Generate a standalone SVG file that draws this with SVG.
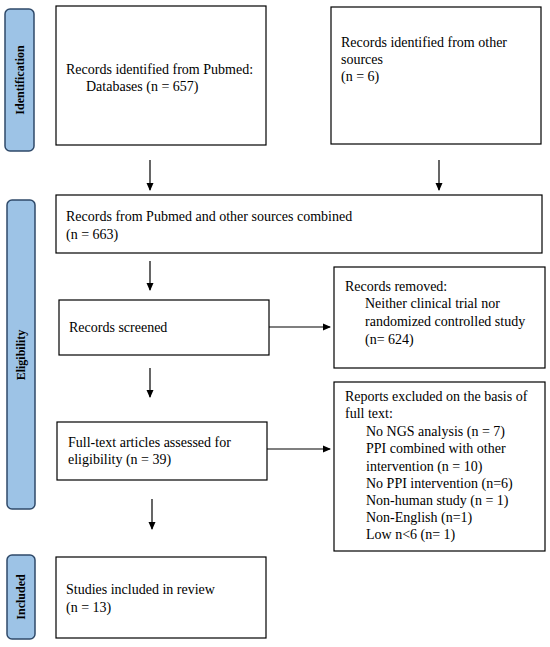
<svg xmlns="http://www.w3.org/2000/svg" width="550" height="647" viewBox="0 0 550 647">
<defs>
<marker id="ah" markerWidth="8" markerHeight="8" refX="7" refY="4" orient="auto" markerUnits="userSpaceOnUse">
<path d="M0,0.5 L8,4 L0,7.5 Z" fill="#000"/>
</marker>
<style>
.box{fill:#fff;stroke:#000;stroke-width:1.2}
.lab{fill:#9dc3e6;stroke:#2f4a6a;stroke-width:1.5}
.t{font-family:"Liberation Serif",serif;font-size:14px;fill:#000}
.lt{font-family:"Liberation Serif",serif;font-size:12px;font-weight:bold;fill:#000}
.c{stroke:#000;stroke-width:1.2;fill:none;marker-end:url(#ah)}
</style>
</defs>
<rect width="550" height="647" fill="#fff"/>
<g id="lab-identification">
<rect class="lab" x="5" y="9" width="29" height="142" rx="5"/>
<text class="lt" transform="translate(24,80) rotate(-90)" text-anchor="middle">Identification</text>
</g>
<g id="lab-eligibility">
<rect class="lab" x="7" y="200" width="28" height="309" rx="5"/>
<text class="lt" transform="translate(25,355) rotate(-90)" text-anchor="middle">Eligibility</text>
</g>
<g id="lab-included">
<rect class="lab" x="7" y="555" width="28" height="84" rx="5"/>
<text class="lt" transform="translate(25,597) rotate(-90)" text-anchor="middle">Included</text>
</g>
<g id="n-pubmed">
<rect class="box" x="56" y="6" width="210" height="139"/>
<text class="t" x="66" y="74">Records identified from Pubmed:</text>
<text class="t" x="86" y="91">Databases (n = 657)</text>
</g>
<g id="n-other">
<rect class="box" x="331" y="7" width="210" height="137"/>
<text class="t" x="341" y="47">Records identified from other</text>
<text class="t" x="341" y="64">sources</text>
<text class="t" x="341" y="81">(n = 6)</text>
</g>
<g id="n-combined">
<rect class="box" x="56" y="195" width="486" height="58"/>
<text class="t" x="66" y="221">Records from Pubmed and other sources combined</text>
<text class="t" x="66" y="239">(n = 663)</text>
</g>
<g id="n-screened">
<rect class="box" x="59" y="300" width="210" height="55"/>
<text class="t" x="69" y="332">Records screened</text>
</g>
<g id="n-removed">
<rect class="box" x="334" y="267" width="211" height="101"/>
<text class="t" x="345" y="291">Records removed:</text>
<text class="t" x="365" y="308">Neither clinical trial nor</text>
<text class="t" x="365" y="326">randomized controlled study</text>
<text class="t" x="365" y="344">(n= 624)</text>
</g>
<g id="n-fulltext">
<rect class="box" x="57" y="422" width="210" height="58"/>
<text class="t" x="68" y="447">Full-text articles assessed for</text>
<text class="t" x="68" y="464">eligibility (n = 39)</text>
</g>
<g id="n-excluded">
<rect class="box" x="334" y="382" width="211" height="169"/>
<text class="t" x="345" y="401">Reports excluded on the basis of</text>
<text class="t" x="345" y="418">full text:</text>
<text class="t" x="366" y="436">No NGS analysis (n = 7)</text>
<text class="t" x="366" y="453">PPI combined with other</text>
<text class="t" x="366" y="471">intervention (n = 10)</text>
<text class="t" x="366" y="488">No PPI intervention (n=6)</text>
<text class="t" x="366" y="505">Non-human study (n = 1)</text>
<text class="t" x="366" y="522">Non-English (n=1)</text>
<text class="t" x="366" y="539">Low n&lt;6 (n= 1)</text>
</g>
<g id="n-included">
<rect class="box" x="56" y="557" width="210" height="81"/>
<text class="t" x="66" y="594">Studies included in review</text>
<text class="t" x="66" y="612">(n = 13)</text>
</g>
<g id="connectors">
<line class="c" x1="150" y1="160" x2="150" y2="190"/>
<line class="c" x1="439" y1="160" x2="439" y2="190"/>
<line class="c" x1="150" y1="261" x2="150" y2="290"/>
<line class="c" x1="269" y1="327" x2="330" y2="327"/>
<line class="c" x1="150" y1="368" x2="150" y2="397"/>
<line class="c" x1="267" y1="449" x2="330" y2="449"/>
<line class="c" x1="152" y1="499" x2="152" y2="529"/>
</g>
</svg>
